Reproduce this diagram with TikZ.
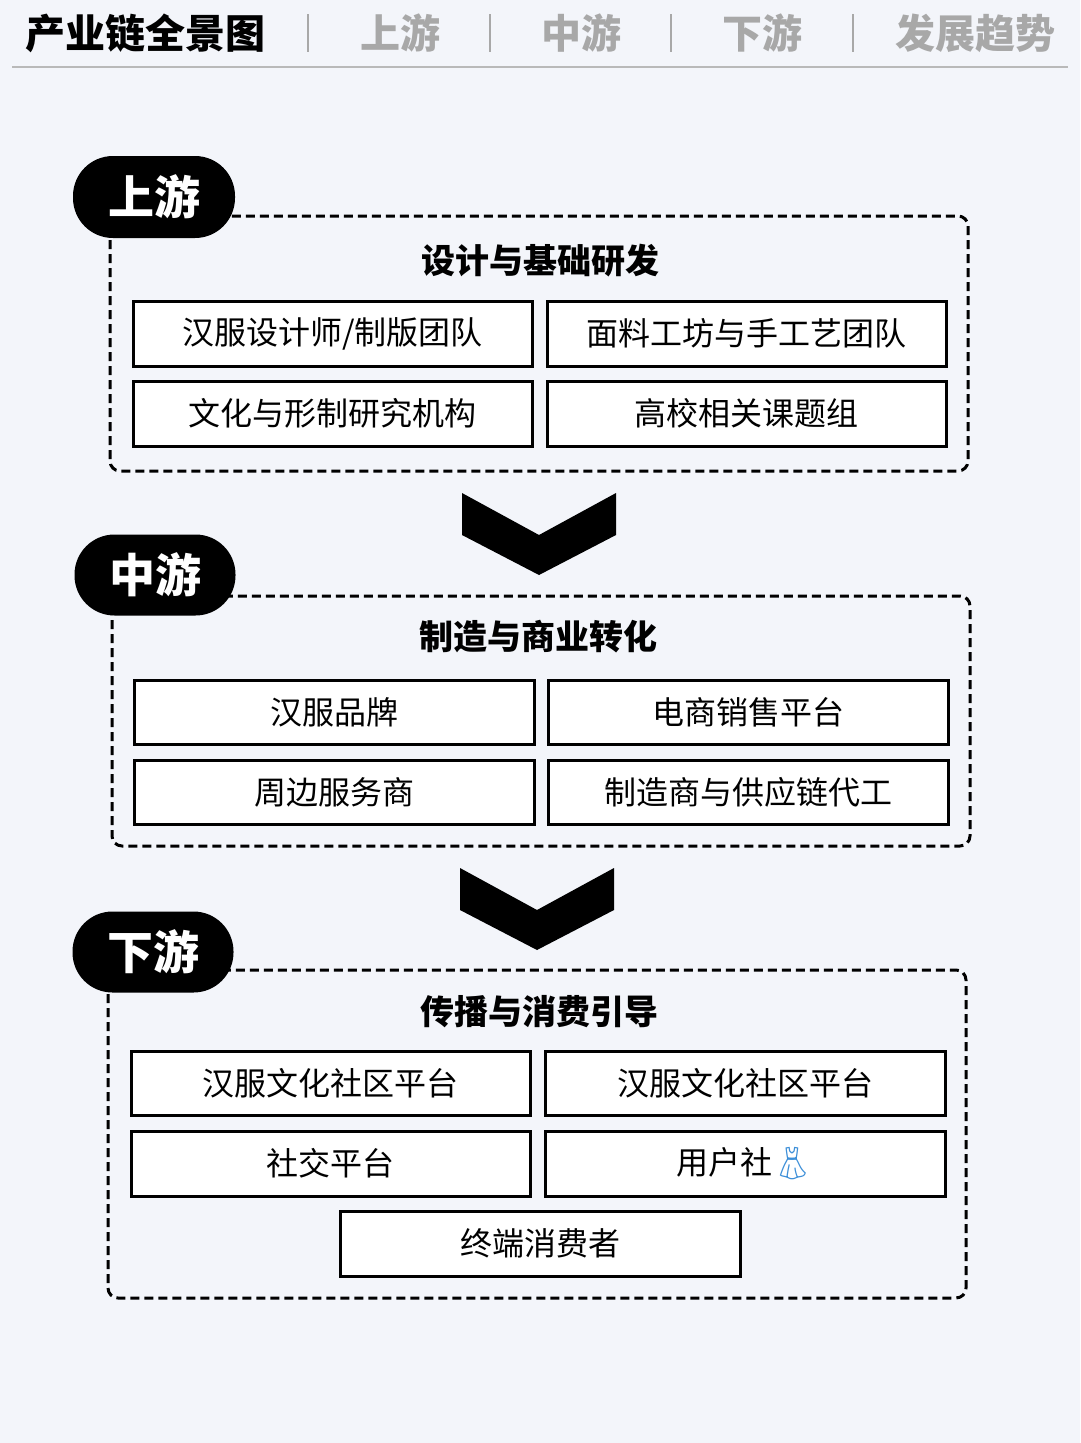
\documentclass[tikz,border=0pt]{standalone}
\usepackage{fontspec}
\setmainfont{Noto Sans CJK SC}
\newfontfamily\emo{Noto Emoji}
\definecolor{bgc}{HTML}{F3F5FA}
\definecolor{grayt}{HTML}{A8A8A8}
\definecolor{dress}{HTML}{3D8FD8}
\tikzset{
 item/.style={draw=black,line width=3pt,fill=white,inner sep=0pt,font=\fontsize{32}{32}\selectfont},
 group/.style={draw=black,line width=3pt,dash pattern=on 9pt off 5pt,rounded corners=10pt},
 pill/.style={fill=black,rounded corners=40pt,text=white,font=\fontsize{46}{46}\selectfont\bfseries,inner sep=0pt},
 gtitle/.style={font=\fontsize{34}{34}\selectfont\bfseries},
 hdr/.style={font=\fontsize{40}{40}\selectfont\bfseries,text=grayt},
 chev/.style={fill=black}
}
\newcommand{\itembox}[6]{\node[item,minimum width=#4-#2,minimum height=#5-#3] (#1) at ({(#2+#4)/2},{-(#3+#5)/2}) {#6};}
\begin{document}
\begin{tikzpicture}[x=1pt,y=1pt]
\fill[bgc] (0,0) rectangle (1080,-1443);
\useasboundingbox (0,0) rectangle (1080,-1443);
% header
\node[hdr,text=black] (h0) at (145,-33) {产业链全景图};
\node[hdr] (h1) at (400,-33) {上游};
\node[hdr] (h2) at (581,-33) {中游};
\node[hdr] (h3) at (762,-33) {下游};
\node[hdr] (h4) at (975,-33) {发展趋势};
\foreach \x in {308,490,671,853} \draw[grayt,line width=1.5pt] (\x,-14) -- (\x,-52);
\draw[grayt!80,line width=1.5pt] (12,-67) -- (1068,-67);
% upstream
\draw[group] (110,-216) rectangle (968,-471);
\node[pill,minimum width=162,minimum height=82] (p1) at (154,-197) {上游};
\node[gtitle] (t1) at (540,-261) {设计与基础研发};
\itembox{a1}{133}{301}{532}{366}{汉服设计师/制版团队}
\itembox{a2}{547}{301}{946}{366}{面料工坊与手工艺团队}
\itembox{a3}{133}{381}{532}{446}{文化与形制研究机构}
\itembox{a4}{547}{381}{946}{446}{高校相关课题组}
\fill[chev] (462,-493) -- (539,-535) -- (616,-493) -- (616,-535) -- (539,-575) -- (462,-535) -- cycle;
% midstream
\draw[group] (112,-596) rectangle (970,-846);
\node[pill,minimum width=161,minimum height=81] (p2) at (155,-575) {中游};
\node[gtitle] (t2) at (538,-637) {制造与商业转化};
\itembox{b1}{134}{680}{534}{744}{汉服品牌}
\itembox{b2}{548}{680}{948}{744}{电商销售平台}
\itembox{b3}{134}{760}{534}{824}{周边服务商}
\itembox{b4}{548}{760}{948}{824}{制造商与供应链代工}
\fill[chev] (460,-868) -- (537,-910) -- (614,-868) -- (614,-910) -- (537,-950) -- (460,-910) -- cycle;
% downstream
\draw[group] (108,-970) rectangle (966,-1298);
\node[pill,minimum width=161,minimum height=81] (p3) at (153,-952) {下游};
\node[gtitle] (t3) at (539,-1012) {传播与消费引导};
\itembox{c1}{131}{1051}{530}{1115}{汉服文化社区平台}
\itembox{c2}{545}{1051}{945}{1115}{汉服文化社区平台}
\itembox{c3}{131}{1131}{530}{1196}{社交平台}
\itembox{c4}{545}{1131}{945}{1196}{用户社{\emo\color{dress}👗}}
\itembox{c5}{340}{1211}{740}{1276}{终端消费者}
\end{tikzpicture}
\end{document}
